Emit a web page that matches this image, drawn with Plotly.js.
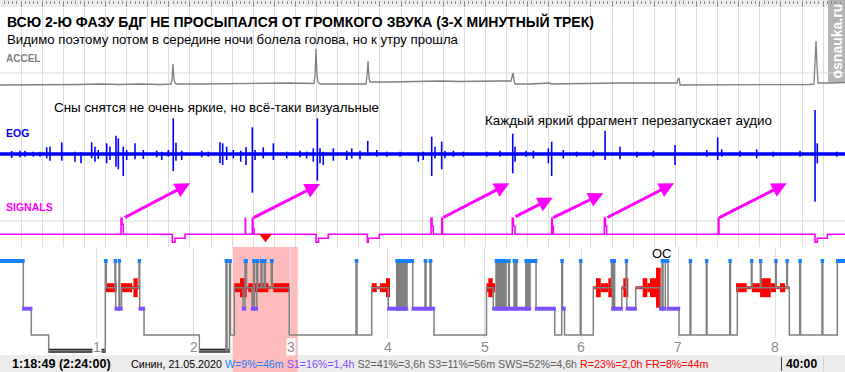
<!DOCTYPE html>
<html><head><meta charset="utf-8">
<script src="https://cdn.plot.ly/plotly-3.0.1.min.js"></script>
<style>html,body{margin:0;padding:0;background:#fff;}#chart{width:845px;height:372px;}</style>
</head><body><div id="chart"></div>
<script>
// ================= DATA (time in hours from start) =================
const X_END = 8.72;
const HOUR_TICKS = [1, 2, 3, 4, 5, 6, 7, 8];

// ACCEL (arbitrary units)
const ACCEL_T = [0,0.206,0.413,0.619,0.826,1.032,1.238,1.445,1.651,1.765,1.775,1.785,1.796,1.806,1.816,2.064,2.374,2.683,2.993,3.240,3.251,3.261,3.271,3.282,3.302,3.406,3.612,3.777,3.787,3.798,3.808,3.818,4.025,4.334,4.541,4.747,4.954,5.160,5.273,5.284,5.294,5.304,5.315,5.470,5.676,5.686,5.986,6.398,6.811,6.987,6.997,7.007,7.018,7.224,7.637,8.050,8.359,8.400,8.411,8.421,8.431,8.442,8.566,8.720];
const ACCEL_V = [15,15,15.5,15,15.5,16,15.5,16,15.5,16,20,36,20,17,16,16,16.5,16.5,17,16.5,25,51,25,18,16,16,16,16,24,39,22,18,18,18.5,19,18.5,19,19,19,23,27,20,16,16,17,16,16.5,17,17,17,21,22,15,15,15,15,15.5,16,40,59,35,17,17,17.5];

// EOG bursts: time, amplitude up, amplitude down
const EOG_T = [0.121,0.206,0.258,0.344,0.413,0.482,0.516,0.637,0.774,0.836,0.946,0.980,1.014,1.101,1.135,1.197,1.221,1.272,1.307,1.393,1.479,1.617,1.669,1.737,1.788,1.816,1.875,2.081,2.150,2.270,2.298,2.339,2.408,2.484,2.539,2.604,2.632,2.717,2.821,2.959,3.096,3.165,3.233,3.275,3.302,3.336,3.440,3.578,3.630,3.715,3.795,3.888,3.991,4.128,4.317,4.368,4.455,4.489,4.558,4.592,4.678,4.781,5.023,5.160,5.291,5.315,5.428,5.504,5.659,5.693,5.813,5.951,6.123,6.244,6.398,6.571,6.742,6.966,7.293,7.406,7.448,7.637,7.809,7.980,8.256,8.411,8.434,8.635];
const EOG_UP = [3,3.3,3.3,2.3,2.3,6.7,7.3,11.7,2.3,1.7,11.7,7.3,4,10.7,7.3,18.3,15.7,7.3,4,10.7,4,3.3,2.3,4,35.7,11.3,3.3,3.3,2.3,11.7,10.7,7.3,4,3.3,6.7,26.7,4,6.7,10.7,2.3,3.3,2.3,5.7,35.7,5.7,2.3,5.7,3.3,5.7,3.3,13,4,2.3,2.3,1.3,2.3,17.3,7.3,12.3,3,3.3,2.3,2.3,3.3,20.3,7.3,3.3,3.3,5.7,12.3,4,2.3,3.3,23.3,7.3,2.3,3.3,9,4,16.7,4.7,3.3,4.7,2.3,3.3,44,10.7,2.3];
const EOG_DN = [4,3.3,2.7,2.7,2.7,4.3,6.7,6.7,7.7,9.3,4.3,7.7,5,9.3,6,12.7,15.3,22,6,5.3,5,3.3,6,2.7,17,6.7,6,3.3,2.7,9.3,11,6,4.3,7.7,11,38.7,6,4.3,6,4.3,3.3,4.3,7.7,26.7,9.3,11,6.7,6,4.3,5.3,2,2.7,2.7,2.7,7.7,6,22,4.3,15.3,4.3,2.7,2.7,2.7,2.7,19.3,7.7,2.7,4.3,9.3,22,4.3,2.7,2.7,6,5.3,3.3,2.7,11,2.7,6,2.7,2.7,4.3,2.7,2.7,47.7,9.3,2.7];

// SIGNALS (step signal)
const SIG_T = [0,1.2487,1.2590,1.2724,1.7781,1.8060,1.9092,2.5315,2.5346,2.6037,2.6110,2.6213,3.2611,3.2869,3.3880,3.7905,3.8008,3.9143,4.4479,4.4582,4.4716,4.5583,4.5645,5.2869,5.2972,5.3148,5.6935,5.7000,5.7100,6.2364,6.2480,6.2600,7.4128,7.4190,8.4107,8.4345,8.5377,8.7203];
const SIG_V = [0,4,2.5,0,-2,-1,0,4,0,4,1.5,0,-2,-1,0,-2,-1,0,4,2,0,4,0,4,2,0,4,2,0,4,2,0,4,0,-2,-1,0,0];

// audio restart arrows (tail -> head) on SIGNALS scale
const ARROW_T0 = [1.2724,2.6037,4.5583,5.3044,5.6935,6.2508,7.4066];
const ARROW_V0 = [4,4,4,4.25,4,4,4];
const ARROW_T1 = [1.9608,3.3024,5.2559,5.7038,6.2260,6.9556,8.1187];
const ARROW_V1 = [12.75,12.575,12.75,9.15,10.25,12.75,12.75];
const CURSOR_T = 2.740;

// Hypnogram: stage change times and stages
const HYP_T = [0,0.2405,0.3230,0.5026,1.0867,1.0970,1.1868,1.1940,1.2281,1.2353,1.2539,1.4345,1.4417,1.4861,2.0568,2.3323,2.3426,2.3684,2.3787,2.4180,2.5077,2.5284,2.5439,2.6006,2.6161,2.6264,2.6502,2.6605,2.6935,2.7038,2.7276,2.7379,2.7998,2.8101,2.9856,3.6739,3.6842,3.8359,4.0072,4.0939,4.1011,4.1156,4.1228,4.1362,4.1435,4.1569,4.1641,4.1775,4.1847,4.2002,4.2590,4.3860,4.3963,4.4376,4.4479,4.4788,5.0206,5.0908,5.1187,5.1269,5.1373,5.1445,5.1548,5.1620,5.1723,5.1806,5.1940,5.2012,5.2147,5.2219,5.2477,5.2559,5.3044,5.3127,5.3251,5.3333,5.4262,5.4345,5.4489,5.4572,5.4696,5.5315,5.7245,5.7967,5.8050,5.8256,5.9886,5.9959,6.1228,6.3106,6.3189,6.3344,6.3426,6.4159,6.4603,6.4685,6.5604,6.8142,6.8318,6.8421,6.8659,6.8937,7.0072,7.1207,7.1290,7.2890,7.2962,7.5304,7.5377,7.6089,7.7534,7.7606,7.8462,7.8535,8.0031,8.0103,8.1187,8.1259,8.1455,8.2528,8.2611,8.4830,8.4912,8.6409];
const HYP_S = ['W','S1','S2','S3','W','R','W','S1','W','S1','R','W','S1','S2','S3','W','S3','W','S2','R','S1','W','R','S1','W','S1','W','R','W','R','W','R','W','R','S2','W','S2','R','S1','W','S1','W','S1','W','S1','W','S1','W','S1','W','S1','W','S1','W','S1','S2','R','S1','W','S1','W','S1','W','S1','W','S1','W','S1','W','S1','W','S1','W','S1','W','S1','W','S1','W','S1','W','S1','S2','W','S1','S2','W','S2','R','W','S1','W','S1','R','W','S1','R','S1','W','S1','W','S1','S2','W','S2','W','S2','W','S2','R','W','R','W','R','W','R','W','R','S2','W','S2','W','S2','W'];

// REM intensity blocks
const REM_START = [1.0867,1.2487,1.3777,2.4180,2.4768,2.5624,2.6316,2.8204,3.8359,3.9216,3.9835,5.0206,5.0392,6.1507,6.1992,6.2776,6.4324,6.6326,6.6801,6.7079,6.7699,7.5955,7.7575,7.8431,7.9536,8.0495];
const REM_END   = [1.2043,1.3622,1.4210,2.4768,2.5459,2.6316,2.7688,2.9856,3.8875,3.9835,4.0248,5.1084,5.0846,6.1992,6.2776,6.3158,6.4840,6.6801,6.7079,6.7699,6.8184,7.7059,7.8431,7.9536,8.0083,8.1011];
const REM_INT   = [2,2,3,2,3,2,2,2,2,2,3,2,3,3,2,3,3,3,2,3,4,2,2,3,2,2];

// ================= STYLE / LAYOUT =================
const FONT = 'Liberation Sans, Arial, sans-serif';
const W = 845, H = 372;
const py = p => 1 - p / H;            // pixel row -> paper fraction
const px = p => p / W;
const STAGE_POS = {W: 14, R: 40.7, S1: 61.7, S2: 88, S3: 103.7};
const STAGE_COL = {W: '#1a80ff', S1: '#7f50ff', S3: '#202020', R: '#ff0000'};
const REM_HALF = {1: 2, 2: 4.5, 3: 9.5, 4: 20};

const traces = [];
// ACCEL
traces.push({x: ACCEL_T, y: ACCEL_V, xaxis: 'x2', yaxis: 'y4', mode: 'lines',
  line: {color: '#808080', width: 1.3}, hoverinfo: 'skip'});
// EOG baseline + bursts
traces.push({x: [0, X_END], y: [0, 0], xaxis: 'x2', yaxis: 'y3', mode: 'lines',
  line: {color: '#0000ff', width: 3.5}, hoverinfo: 'skip'});
{
  const xs = [], ys = [];
  EOG_T.forEach((t, i) => { xs.push(t, t, null); ys.push(EOG_UP[i], -EOG_DN[i], null); });
  traces.push({x: xs, y: ys, xaxis: 'x2', yaxis: 'y3', mode: 'lines',
    line: {color: '#0000ff', width: 1.6}, hoverinfo: 'skip'});
}
// SIGNALS
traces.push({x: SIG_T, y: SIG_V, xaxis: 'x2', yaxis: 'y2', mode: 'lines',
  line: {color: '#ff00ff', width: 1.6, shape: 'hv'}, hoverinfo: 'skip'});
traces.push({x: [CURSOR_T], y: [-0.6], xaxis: 'x2', yaxis: 'y2', mode: 'markers', cliponaxis: false,
  marker: {symbol: 'triangle-down', size: 11, color: '#ff0000'}, hoverinfo: 'skip'});
// ruler carrier (invisible)
traces.push({x: [0, X_END], y: [0, 0], xaxis: 'x3', yaxis: 'y4', mode: 'lines',
  line: {width: 0}, opacity: 0, hoverinfo: 'skip'});

// Hypnogram
const n = HYP_T.length;
const segEnd = i => (i + 1 < n ? HYP_T[i + 1] : X_END);
traces.push({type: 'bar', x: REM_START.map((s, i) => (s + REM_END[i]) / 2),
  width: REM_START.map((s, i) => REM_END[i] - s),
  base: REM_INT.map(k => STAGE_POS.R - REM_HALF[k]),
  y: REM_INT.map(k => 2 * REM_HALF[k]),
  xaxis: 'x', yaxis: 'y', marker: {color: '#ff0000', line: {width: 0}}, hoverinfo: 'skip'});
function stageTrace(stage, width, pad) {
  const xs = [], ys = [];
  for (let i = 0; i < n; i++) if (HYP_S[i] === stage) {
    xs.push(HYP_T[i] - pad, segEnd(i) + pad, null);
    ys.push(STAGE_POS[stage], STAGE_POS[stage], null);
  }
  return {x: xs, y: ys, xaxis: 'x', yaxis: 'y', mode: 'lines',
    line: {color: STAGE_COL[stage], width: width}, hoverinfo: 'skip'};
}
traces.push(stageTrace('R', 3, 0));
traces.push(stageTrace('S3', 4, 0.004));
traces.push({x: HYP_T.concat([X_END]), y: HYP_S.concat([HYP_S[n - 1]]).map(s => STAGE_POS[s]),
  xaxis: 'x', yaxis: 'y', mode: 'lines', line: {color: '#808080', width: 1.5, shape: 'hv'}, hoverinfo: 'skip'});
traces.push(stageTrace('S1', 4, 0.012));
traces.push(stageTrace('W', 4, 0.014));

// ---------- annotations ----------
const ann = [];
const txt = (x, y, text, size, color, opts) => Object.assign({xref: 'paper', yref: 'paper',
  x: px(x), y: py(y), text: text, showarrow: false, xanchor: 'left', yanchor: 'middle',
  font: {family: FONT, size: size, color: color}}, opts || {});
ann.push(txt(5, 22, '<b>ВСЮ 2-Ю ФАЗУ БДГ НЕ ПРОСЫПАЛСЯ ОТ ГРОМКОГО ЗВУКА (3-Х МИНУТНЫЙ ТРЕК)</b>', 14, '#000'));
ann.push(txt(5, 39, 'Видимо поэтому потом в середине ночи болела голова, но к утру прошла', 13.2, '#000'));
ann.push(txt(4, 59, '<b>ACCEL</b>', 10, '#808080'));
ann.push(txt(52, 108, 'Сны снятся не очень яркие, но всё-таки визуальные', 13.4, '#000'));
ann.push(txt(483, 121, 'Каждый яркий фрагмент перезапускает аудио', 13.4, '#000'));
ann.push(txt(4, 133, '<b>EOG</b>', 10.5, '#0000ff'));
ann.push(txt(4, 207, '<b>SIGNALS</b>', 10.5, '#ff00ff'));
ann.push(txt(650, 254, 'ОС', 13, '#000'));
HOUR_TICKS.forEach(h => ann.push({xref: 'x', yref: 'paper', x: h, y: py(347), text: String(h),
  showarrow: false, xanchor: 'center', yanchor: 'middle', bgcolor: '#ffffff', borderpad: 0,
  font: {family: FONT, size: 14, color: '#8c8c8c'}}));
ann.push(txt(10, 364, '<b>1:18:49 (2:24:00)</b>', 12.6, '#000'));
ann.push(txt(129, 364, 'Синин, 21.05.2020 <span style="color:#2080ff">W=9%=46m</span> ' +
  '<span style="color:#7f4fff">S1=16%=1,4h</span> <span style="color:#606060">S2=41%=3,6h S3=11%=56m SWS=52%=4,6h</span> ' +
  '<span style="color:#ff0000">R=23%=2,0h FR=8%=44m</span>', 10.7, '#000'));
ann.push(txt(784, 364, '<b>40:00</b>', 12.2, '#000'));
ann.push({xref: 'paper', yref: 'paper', x: px(836.5), y: py(41), text: '<b>osnauka.ru</b>', textangle: -90,
  showarrow: false, xanchor: 'center', yanchor: 'middle', font: {family: FONT, size: 14, color: '#ffffff'}});
ARROW_T0.forEach((t0, i) => ann.push({xref: 'x2', yref: 'y2', axref: 'x2', ayref: 'y2',
  x: ARROW_T1[i], y: ARROW_V1[i], ax: t0, ay: ARROW_V0[i], text: '', showarrow: true,
  arrowhead: 2, arrowsize: 1, arrowwidth: 3, arrowcolor: '#ff00ff', standoff: 0, startstandoff: 0}));

// ---------- shapes ----------
const shapes = [
  {type: 'rect', xref: 'paper', yref: 'paper', x0: 0, x1: 1, y0: py(7), y1: 1, fillcolor: '#ececec', line: {width: 0}, layer: 'below'},
  {type: 'rect', xref: 'paper', yref: 'paper', x0: 0, x1: 1, y0: 0, y1: py(355), fillcolor: '#ececec', line: {width: 0}, layer: 'below'},
  {type: 'rect', xref: 'x', yref: 'paper', x0: 2.4014, x1: 3.0722, y0: 0, y1: py(247), fillcolor: '#ffbcbc', line: {width: 0}, layer: 'below'},
  {type: 'rect', xref: 'paper', yref: 'paper', x0: px(828), x1: 1, y0: py(82), y1: 1, fillcolor: '#b4b4b4', line: {width: 0}, layer: 'below'},
  {type: 'line', xref: 'paper', yref: 'paper', x0: 0, x1: 1, y0: py(73), y1: py(73), line: {color: '#dcdcdc', width: 1}, layer: 'below'},
  {type: 'line', xref: 'paper', yref: 'paper', x0: 0, x1: 1, y0: py(221), y1: py(221), line: {color: '#dcdcdc', width: 1}, layer: 'below'},
  {type: 'line', xref: 'paper', yref: 'paper', x0: px(781.5), x1: px(781.5), y0: py(357), y1: py(371), line: {color: '#404040', width: 1}},
  {type: 'line', xref: 'paper', yref: 'paper', x0: px(823.5), x1: px(823.5), y0: py(357), y1: py(371), line: {color: '#cfcfcf', width: 1}}
];

const hidden = {showticklabels: false, ticks: '', zeroline: false, showline: false, fixedrange: true};
const layout = {
  width: W, height: H, margin: {l: 0, r: 0, t: 0, b: 0, pad: 0},
  paper_bgcolor: '#ffffff', plot_bgcolor: 'rgba(0,0,0,0)', showlegend: false, barmode: 'overlay',
  font: {family: FONT},
  xaxis: Object.assign({domain: [0, 1], range: [0, X_END], anchor: 'y', showgrid: true, tick0: 0, dtick: 1, gridcolor: '#e0e0e0', gridwidth: 1}, hidden),
  xaxis2: Object.assign({domain: [0, 1], range: [0, X_END], anchor: 'y2', showgrid: true, tick0: 0, dtick: 0.2178, gridcolor: '#dcdcdc', gridwidth: 1}, hidden),
  xaxis3: {overlaying: 'x2', range: [0, X_END], anchor: 'free', position: 1, side: 'top', showgrid: false,
    zeroline: false, showline: false, showticklabels: false, fixedrange: true,
    ticks: 'inside', ticklen: 6, tickwidth: 1, tickcolor: '#8a8a8a', tick0: 0, dtick: 0.2178,
    minor: {ticks: 'inside', ticklen: 3, tickwidth: 1, tickcolor: '#8a8a8a', dtick: 0.04356, showgrid: false}},
  yaxis: Object.assign({domain: [py(356), py(247)], range: [109, 0], showgrid: false, anchor: 'x'}, hidden),
  yaxis2: Object.assign({domain: [py(247), py(175)], range: [-3.175, 14.825], showgrid: false, anchor: 'x2'}, hidden),
  yaxis3: Object.assign({domain: [py(205), py(100)], range: [-51, 54], showgrid: false, anchor: 'x2'}, hidden),
  yaxis4: Object.assign({domain: [py(100), py(8)], range: [0, 92], showgrid: false, anchor: 'x2'}, hidden),
  annotations: ann, shapes: shapes
};
Plotly.newPlot('chart', traces, layout, {staticPlot: true, displayModeBar: false});
</script></body></html>
